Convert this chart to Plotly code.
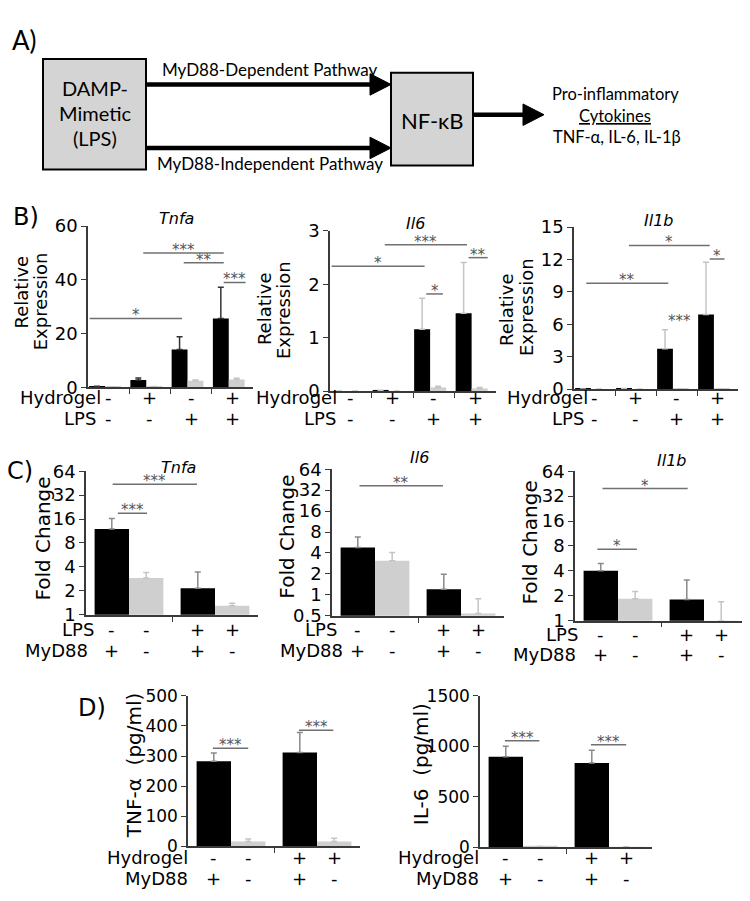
import math

import plotly.graph_objects as go

W, H = 750, 901
TXT = "DejaVu Sans"
DIAG = "Lato"
BLACK = "#000000"
GREY = "#cfcfcf"
AXIS = "#3a3a3a"
SIG = "#707070"
ERR_DARK = "#333333"
ERR_MID = "#8a8a8a"
ERR_LIGHT = "#c4c4c4"

# ---- Panel B: relative expression (4 groups, black + grey bar in each)
B_HYDROGEL = ["-", "+", "-", "+"]
B_LPS = ["-", "-", "+", "+"]

TNFA_B_BLACK = [0.3, 2.7, 14.0, 25.6]
TNFA_B_BLACK_ERR = [0.1, 0.7, 4.8, 11.6]
TNFA_B_GREY = [0.1, 0.2, 2.4, 2.9]
TNFA_B_GREY_ERR = [0.05, 0.05, 0.3, 0.4]
TNFA_B_SIG = [(0.04, 2.28, 25.6, "*"), (1.34, 3.29, 50.0, "***"),
              (2.32, 3.29, 46.3, "**"), (3.29, 3.82, 39.0, "***")]

IL6_B_BLACK = [0.0, 0.012, 1.16, 1.46]
IL6_B_BLACK_ERR = [0.0, 0.0, 0.58, 0.95]
IL6_B_GREY = [0.0, 0.0, 0.07, 0.05]
IL6_B_GREY_ERR = [0.0, 0.0, 0.02, 0.02]
IL6_B_SIG = [(0.04, 2.28, 2.34, "*"), (1.32, 3.30, 2.74, "***"),
             (2.32, 2.72, 1.82, "*"), (3.34, 3.80, 2.50, "**")]

IL1B_B_BLACK = [0.02, 0.06, 3.75, 6.9]
IL1B_B_BLACK_ERR = [0.0, 0.0, 1.75, 4.85]
IL1B_B_GREY = [0.01, 0.01, 0.05, 0.05]
IL1B_B_GREY_ERR = [0.0, 0.0, 0.0, 0.0]
IL1B_B_SIG = [(0.30, 2.30, 9.8, "**"), (1.34, 3.31, 13.3, "*"),
              (3.31, 3.67, 12.05, "*")]
IL1B_B_STARS = [(2.58, 6.0, "***")]  # marker without a bracket line

# ---- Panel C: fold change, log2 axis
C_LPS = ["-", "-", "+", "+"]
C_MYD88 = ["+", "-", "+", "-"]

TNFA_C_BLACK = [12.0, 2.15]
TNFA_C_BLACK_ERR = [4.3, 1.3]
TNFA_C_GREY = [2.9, 1.3]
TNFA_C_GREY_ERR = [0.5, 0.1]
TNFA_C_SIG = [(0.31, 1.29, 44.0, "***"), (0.37, 0.71, 19.0, "***")]

IL6_C_BLACK = [4.8, 1.2]
IL6_C_BLACK_ERR = [2.0, 0.77]
IL6_C_GREY = [3.1, 0.54]
IL6_C_GREY_ERR = [0.96, 0.34]
IL6_C_SIG = [(0.32, 1.29, 37.0, "**")]

IL1B_C_BLACK = [4.0, 1.8]
IL1B_C_BLACK_ERR = [0.9, 1.3]
IL1B_C_GREY = [1.84, 1.0]
IL1B_C_GREY_ERR = [0.41, 0.69]
IL1B_C_SIG = [(0.32, 1.31, 39.5, "*"), (0.26, 0.72, 7.3, "*")]

LOG_TICKS = [1, 2, 4, 8, 16, 32, 64]
LOG_TICKS_IL6 = [0.5, 1, 2, 4, 8, 16, 32, 64]

# ---- Panel D: ELISA (pg/ml)
D_HYDROGEL = ["-", "-", "+", "+"]
D_MYD88 = ["+", "-", "+", "-"]

TNF_D_BLACK = [283, 312]
TNF_D_BLACK_ERR = [27, 66]
TNF_D_GREY = [16, 16]
TNF_D_GREY_ERR = [8, 11]
TNF_D_SIG = [(0.29, 0.70, 326, "***"), (1.29, 1.69, 386, "***")]

IL6_D_BLACK = [897, 835]
IL6_D_BLACK_ERR = [103, 126]
IL6_D_GREY = [5, 3]
IL6_D_GREY_ERR = [3, 2]
IL6_D_SIG = [(0.29, 0.69, 1055, "***"), (1.29, 1.70, 1016, "***")]

fig = go.Figure()


def pp(x, y):
    return x / W, 1 - y / H


def note(x, y, text, size, family=TXT, angle=0, xanchor="center"):
    fx, fy = pp(x, y)
    fig.add_annotation(x=fx, y=fy, xref="paper", yref="paper", text=text,
                       showarrow=False, textangle=angle, xanchor=xanchor,
                       yanchor="middle",
                       font=dict(family=family, size=size, color="black"))


def names(n):
    s = "" if n == 1 else str(n)
    return "x" + s, "y" + s, "xaxis" + s, "yaxis" + s


def stars(xr, yr, x, yv, lab, log):
    fig.add_annotation(
        x=x, y=math.log10(yv) if log else yv, xref=xr, yref=yr, text=lab,
        showarrow=False, yanchor="middle", yshift=3,
        font=dict(family=TXT, size=15, color="#555555"))


def panel(n, xpx, ypx, yaxis, bx, black, black_err, gx, grey, grey_err,
          width, err_color, sig, xmax, xticks, log=False):
    xr, yr, xa, ya = names(n)
    for xs, vals, errs, col, ecol in [(bx, black, black_err, BLACK, err_color),
                                       (gx, grey, grey_err, GREY, ERR_LIGHT)]:
        fig.add_trace(go.Bar(
            x=xs, y=vals, width=width, xaxis=xr, yaxis=yr,
            marker=dict(color=col, line=dict(width=0)),
            error_y=dict(type="data", array=errs, arrayminus=[0] * len(errs),
                         symmetric=False, color=ecol, thickness=1.5, width=3),
            showlegend=False, hoverinfo="skip"))
    for x0, x1, yv, lab in sig:
        fig.add_trace(go.Scatter(
            x=[x0, x1], y=[yv, yv], mode="lines", xaxis=xr, yaxis=yr,
            line=dict(color=SIG, width=1.5), showlegend=False,
            hoverinfo="skip"))
        stars(xr, yr, (x0 + x1) / 2, yv, lab, log)
    yax = dict(domain=[1 - ypx[1] / H, 1 - ypx[0] / H], anchor=xr,
               showline=True, linecolor=AXIS, linewidth=1.5,
               ticks="outside", ticklen=5, tickcolor=AXIS,
               showgrid=False, zeroline=False,
               tickfont=dict(family=TXT, size=18, color="black"))
    yax.update(yaxis)
    fig.update_layout(**{
        xa: dict(domain=[xpx[0] / W, xpx[1] / W], range=[0, xmax],
                 anchor=yr, showline=True, linecolor=AXIS, linewidth=1.5,
                 ticks="outside", tickvals=xticks, ticklen=5, tickcolor=AXIS,
                 showticklabels=False, showgrid=False, zeroline=False),
        ya: yax,
    })


def sign_rows(n, centers, rows, label_right):
    xr = names(n)[0]
    for (label, signs, ypx), right in zip(rows, label_right):
        note(right, ypx, label, 18, xanchor="right")
        for c, s in zip(centers, signs):
            fig.add_annotation(x=c, y=1 - ypx / H, xref=xr, yref="paper",
                               text=s, showarrow=False, yanchor="middle",
                               font=dict(family=TXT, size=18, color="black"))


# ---------------- Panel A: diagram ----------------
def rect(x0, y0, x1, y1):
    a, b = pp(x0, y0)
    c, d = pp(x1, y1)
    fig.add_shape(type="rect", xref="paper", yref="paper", x0=a, y0=d,
                  x1=c, y1=b, fillcolor="#d4d4d4",
                  line=dict(color="black", width=2))


def arrow(x0, x1, y, head=21, half=11):
    a, b = pp(x0, y)
    c, _ = pp(x1 - head + 2, y)
    fig.add_shape(type="line", xref="paper", yref="paper", x0=a, y0=b,
                  x1=c, y1=b, line=dict(color="black", width=4.5))
    p1 = pp(x1 - head, y - half)
    p2 = pp(x1, y)
    p3 = pp(x1 - head, y + half)
    fig.add_shape(type="path", xref="paper", yref="paper",
                  path=f"M {p1[0]} {p1[1]} L {p2[0]} {p2[1]} L {p3[0]} {p3[1]} Z",
                  fillcolor="black", line=dict(color="black", width=1))


rect(35, 41, 138, 154)
rect(383, 55, 465, 150)
arrow(138, 383, 67)
arrow(138, 383, 132)
arrow(465, 536, 98)

note(16, 22, "A)", 26, family=DIAG)
note(87, 71, "DAMP-", 20, family=DIAG)
note(87, 96, "Mimetic", 20, family=DIAG)
note(87, 122, "(LPS)", 20, family=DIAG)
note(262, 52, "MyD88-Dependent Pathway", 17, family=DIAG)
note(262, 148, "MyD88-Independent Pathway", 17, family=DIAG)
note(424, 104, "NF-κB", 22, family=DIAG)
note(607, 77, "Pro-inflammatory", 16.5, family=DIAG)
note(607, 99, "<u>Cytokines</u>", 16.5, family=DIAG)
note(609, 121, "TNF-α, IL-6, IL-1β", 16.5, family=DIAG)

# ---------------- Panel B ----------------
B_BX = [i + 0.22 for i in range(4)]
B_GX = [i + 0.605 for i in range(4)]
B_CENTERS = [i + 0.5 for i in range(4)]

panel(1, (80, 245), (212, 377), dict(range=[0, 60], tickvals=[0, 20, 40, 60]),
      B_BX, TNFA_B_BLACK, TNFA_B_BLACK_ERR, B_GX, TNFA_B_GREY, TNFA_B_GREY_ERR,
      0.385, ERR_DARK, TNFA_B_SIG, 4, [1, 2, 3])
panel(2, (322, 488), (217, 381), dict(range=[0, 3], tickvals=[0, 1, 2, 3]),
      B_BX, IL6_B_BLACK, IL6_B_BLACK_ERR, B_GX, IL6_B_GREY, IL6_B_GREY_ERR,
      0.385, ERR_LIGHT, IL6_B_SIG, 4, [1, 2, 3])
panel(3, (566, 730), (213, 379),
      dict(range=[0, 15], tickvals=[0, 3, 6, 9, 12, 15]),
      B_BX, IL1B_B_BLACK, IL1B_B_BLACK_ERR, B_GX, IL1B_B_GREY, IL1B_B_GREY_ERR,
      0.385, ERR_LIGHT, IL1B_B_SIG, 4, [1, 2, 3])
for x, yv, lab in IL1B_B_STARS:
    stars("x3", "y3", x, yv, lab, False)

b_rows = [("Hydrogel", B_HYDROGEL, 388), ("LPS", B_LPS, 409)]
sign_rows(1, B_CENTERS, b_rows, [95, 90])
sign_rows(2, B_CENTERS, b_rows, [331, 330])
sign_rows(3, B_CENTERS, b_rows, [582, 578])

note(18, 203, "B)", 24)
note(168, 204, "<i>Tnfa</i>", 16)
note(407, 209, "<i>Il6</i>", 16)
note(651, 206, "<i>Il1b</i>", 16)
for xr, xe, yr, ye in [(13, 32, 280, 289), (256, 275, 297, 298),
                       (498, 518, 298, 295)]:
    note(xr, yr, "Relative", 18, angle=-90)
    note(xe, ye, "Expression", 18, angle=-90)

# ---------------- Panel C ----------------
CD_BX = [0.3, 1.3]
CD_GX = [0.7, 1.7]
CD_CENTERS = [0.3, 0.7, 1.3, 1.7]


def log_axis(ticks):
    return dict(type="log", range=[math.log10(ticks[0]), math.log10(ticks[-1])],
                tickvals=ticks, ticktext=[f"{t:g}" for t in ticks])


panel(4, (78, 250), (463, 610), log_axis(LOG_TICKS),
      CD_BX, TNFA_C_BLACK, TNFA_C_BLACK_ERR, CD_GX, TNFA_C_GREY, TNFA_C_GREY_ERR,
      0.4, ERR_MID, TNFA_C_SIG, 2, [1], log=True)
panel(5, (324, 496), (461, 611), log_axis(LOG_TICKS_IL6),
      CD_BX, IL6_C_BLACK, IL6_C_BLACK_ERR, CD_GX, IL6_C_GREY, IL6_C_GREY_ERR,
      0.4, ERR_MID, IL6_C_SIG, 2, [1], log=True)
panel(6, (567, 739), (463, 616), log_axis(LOG_TICKS),
      CD_BX, IL1B_C_BLACK, IL1B_C_BLACK_ERR, CD_GX, IL1B_C_GREY, IL1B_C_GREY_ERR,
      0.4, ERR_MID, IL1B_C_SIG, 2, [1], log=True)

sign_rows(4, CD_CENTERS, [("LPS", C_LPS, 625), ("MyD88", C_MYD88, 647)], [88, 82])
sign_rows(5, CD_CENTERS, [("LPS", C_LPS, 625), ("MyD88", C_MYD88, 647)], [331, 337])
sign_rows(6, CD_CENTERS, [("LPS", C_LPS, 630), ("MyD88", C_MYD88, 651)], [572, 570])

note(12, 463, "C)", 24)
note(170, 459, "<i>Tnfa</i>", 16)
note(411, 449, "<i>Il6</i>", 16)
note(664, 452, "<i>Il1b</i>", 16)
for x, y in [(35, 532), (279, 530), (522, 536)]:
    note(x, y, "Fold Change", 20, angle=-90)

# ---------------- Panel D ----------------
d_font = dict(family=TXT, size=17, color="black")
panel(7, (180, 352), (693, 847),
      dict(range=[0, 500], tickvals=[0, 100, 200, 300, 400, 500], tickfont=d_font),
      CD_BX, TNF_D_BLACK, TNF_D_BLACK_ERR, CD_GX, TNF_D_GREY, TNF_D_GREY_ERR,
      0.4, ERR_MID, TNF_D_SIG, 2, [1])
panel(8, (472, 644), (693, 848),
      dict(range=[0, 1500], tickvals=[0, 500, 1000, 1500], tickfont=d_font),
      CD_BX, IL6_D_BLACK, IL6_D_BLACK_ERR, CD_GX, IL6_D_GREY, IL6_D_GREY_ERR,
      0.4, ERR_MID, IL6_D_SIG, 2, [1])

d_rows = [("Hydrogel", D_HYDROGEL, 859), ("MyD88", D_MYD88, 880)]
sign_rows(7, CD_CENTERS, d_rows, [182, 182])
sign_rows(8, CD_CENTERS, d_rows, [473, 473])

note(84, 705, "D)", 24)
note(126, 764, "TNF-α  (pg/ml)", 20, angle=-90)
note(413, 763, "IL-6  (pg/ml)", 20, angle=-90)

fig.update_layout(
    width=W, height=H, margin=dict(l=0, r=0, t=0, b=0),
    paper_bgcolor="white", plot_bgcolor="white", showlegend=False,
    font=dict(family=TXT, color="black"), barmode="overlay",
)

fig.write_html("out.html")
